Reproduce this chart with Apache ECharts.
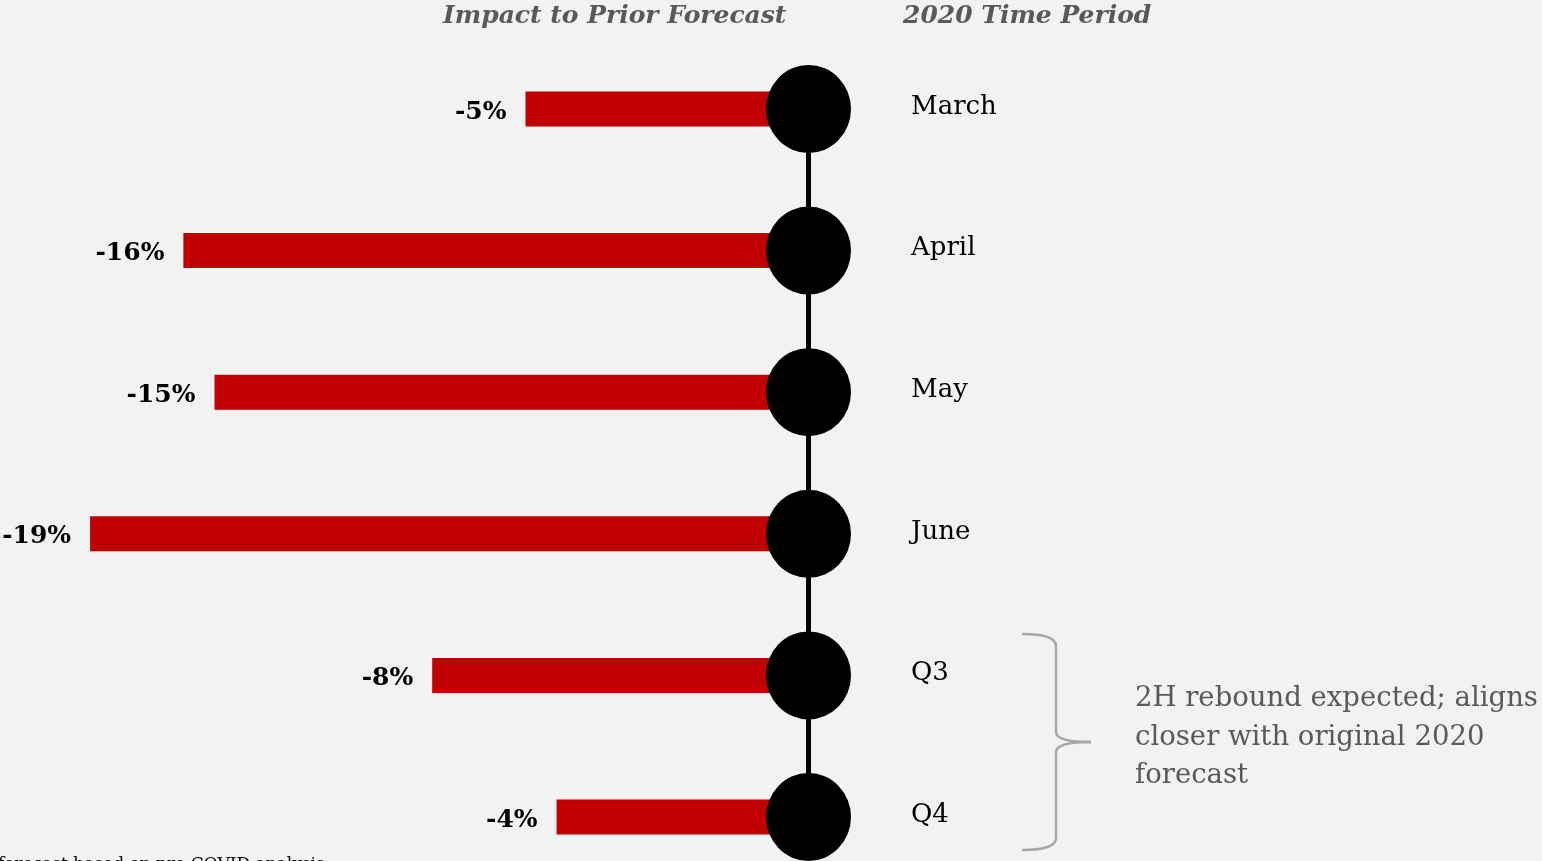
<!DOCTYPE html>
<html>
<head>
<meta charset="utf-8">
<title>Impact to Prior Forecast</title>
<script src="https://cdn.jsdelivr.net/npm/echarts@6/dist/echarts.min.js"></script>
<style>
    html, body { margin: 0; padding: 0; background: #f2f2f2; }
    #chart { width: 1542px; height: 861px; }
</style>
</head>
<body>
<div id="chart"></div>
<script>
// 2020 time periods and their impact to prior forecast (%)
const periods = ['March', 'April', 'May', 'June', 'Q3', 'Q4'];
const impact = [-5, -16, -15, -19, -8, -4];

const serif = "Georgia, 'DejaVu Serif', serif";
const dotX = 4.1; // where the timeline sits on the value axis

function bracketPart(shape, type) {
    return {
        type: type,
        shape: shape,
        style: { fill: 'none', stroke: '#a6a6a6', lineWidth: 2.5 }
    };
}

function drawChart() {
    let chartDom = document.getElementById('chart');
    let myChart = echarts.init(chartDom);
    let option;
    option = {
        backgroundColor: '#f2f2f2',
        animation: false,
        grid: { left: 59, right: 550, top: 109, bottom: 44 },
        xAxis: { type: 'value', min: -20, max: 10, show: false },
        yAxis: {
            type: 'category',
            data: periods,
            inverse: true,
            boundaryGap: false,
            show: false
        },
        series: [
            {
                name: 'base',
                type: 'bar',
                stack: 'impact',
                barWidth: 35,
                itemStyle: { color: '#c00000' },
                data: periods.map(() => dotX),
                z: 1
            },
            {
                name: 'Impact to Prior Forecast',
                type: 'bar',
                stack: 'impact',
                barWidth: 35,
                itemStyle: { color: '#c00000' },
                label: {
                    show: true,
                    position: 'left',
                    distance: 19,
                    offset: [0, 3],
                    formatter: p => p.value + '%',
                    fontFamily: serif,
                    fontWeight: 'bold',
                    fontSize: 25,
                    color: '#000'
                },
                data: impact,
                z: 1
            },
            {
                name: 'timeline',
                type: 'line',
                symbol: 'none',
                lineStyle: { color: '#000', width: 5 },
                data: periods.map(p => [dotX, p]),
                z: 2
            },
            {
                name: '2020 Time Period',
                type: 'scatter',
                symbol: 'circle',
                symbolSize: [85, 88],
                itemStyle: { color: '#000', opacity: 1 },
                label: {
                    show: true,
                    position: 'right',
                    distance: 60,
                    offset: [0, -2],
                    formatter: '{b}',
                    fontFamily: serif,
                    fontSize: 26,
                    color: '#000'
                },
                emphasis: { disabled: true },
                data: periods.map(p => ({ name: p, value: [dotX, p] })),
                z: 3
            }
        ],
        graphic: [
            {
                type: 'text', left: 443, top: 4,
                style: {
                    text: 'Impact to Prior Forecast',
                    font: "italic bold 25px " + serif,
                    fill: '#595959'
                }
            },
            {
                type: 'text', left: 903, top: 4,
                style: {
                    text: '2020 Time Period',
                    font: "italic bold 25px " + serif,
                    fill: '#595959'
                }
            },
            // curly bracket round Q3 / Q4
            bracketPart({ x1: 1022, y1: 634, x2: 1056, y2: 646, cpx1: 1056, cpy1: 634 }, 'bezierCurve'),
            bracketPart({ x1: 1056, y1: 646, x2: 1056, y2: 732 }, 'line'),
            bracketPart({ x1: 1056, y1: 732, x2: 1091, y2: 742, cpx1: 1056, cpy1: 742 }, 'bezierCurve'),
            bracketPart({ x1: 1091, y1: 742, x2: 1056, y2: 752, cpx1: 1056, cpy1: 742 }, 'bezierCurve'),
            bracketPart({ x1: 1056, y1: 752, x2: 1056, y2: 838 }, 'line'),
            bracketPart({ x1: 1056, y1: 838, x2: 1022, y2: 850, cpx1: 1056, cpy1: 850 }, 'bezierCurve'),
            {
                type: 'text', left: 1135, top: 680,
                style: {
                    text: '2H rebound expected; aligns\ncloser with original 2020\nforecast',
                    font: "27.5px " + serif,
                    lineHeight: 38.5,
                    fill: '#595959'
                }
            },
            {
                type: 'text', left: -2, top: 856,
                style: {
                    text: 'forecast based on pre-COVID analysis',
                    font: "17px " + serif,
                    fill: '#000'
                }
            }
        ]
    };
    option && myChart.setOption(option);
}

drawChart();
</script>
</body>
</html>
